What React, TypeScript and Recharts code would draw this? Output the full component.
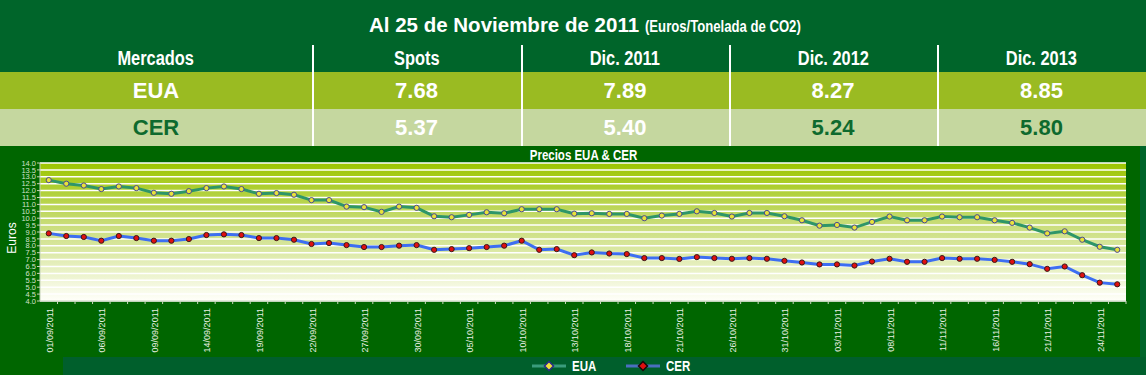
import React from 'react';
import { LineChart, Line, XAxis, YAxis, CartesianGrid, Legend } from 'recharts';

// ---------- data ----------
const dates = [
  '01/09/2011', '02/09/2011', '05/09/2011', '06/09/2011', '07/09/2011', '08/09/2011', '09/09/2011',
  '12/09/2011', '13/09/2011', '14/09/2011', '15/09/2011', '16/09/2011', '19/09/2011', '20/09/2011',
  '21/09/2011', '22/09/2011', '23/09/2011', '26/09/2011', '27/09/2011', '28/09/2011', '29/09/2011',
  '30/09/2011', '03/10/2011', '04/10/2011', '05/10/2011', '06/10/2011', '07/10/2011', '10/10/2011',
  '11/10/2011', '12/10/2011', '13/10/2011', '14/10/2011', '17/10/2011', '18/10/2011', '19/10/2011',
  '20/10/2011', '21/10/2011', '24/10/2011', '25/10/2011', '26/10/2011', '27/10/2011', '28/10/2011',
  '31/10/2011', '01/11/2011', '02/11/2011', '03/11/2011', '04/11/2011', '07/11/2011', '08/11/2011',
  '09/11/2011', '10/11/2011', '11/11/2011', '14/11/2011', '15/11/2011', '16/11/2011', '17/11/2011',
  '18/11/2011', '21/11/2011', '22/11/2011', '23/11/2011', '24/11/2011', '25/11/2011',
];

const euaValues = [
  12.76, 12.5, 12.37, 12.11, 12.3, 12.18, 11.84, 11.77, 11.96, 12.18, 12.3, 12.11, 11.77, 11.82,
  11.7, 11.31, 11.31, 10.84, 10.8, 10.46, 10.84, 10.75, 10.14, 10.07, 10.24, 10.43, 10.36, 10.65,
  10.65, 10.65, 10.33, 10.36, 10.31, 10.31, 10.0, 10.19, 10.31, 10.5, 10.38, 10.12, 10.38, 10.38,
  10.14, 9.85, 9.46, 9.51, 9.32, 9.73, 10.12, 9.85, 9.85, 10.12, 10.07, 10.07, 9.85, 9.66,
  9.32, 8.9, 9.05, 8.44, 7.93, 7.71,
];

const cerValues = [
  8.9, 8.71, 8.64, 8.37, 8.71, 8.56, 8.37, 8.37, 8.49, 8.78, 8.83, 8.78, 8.56, 8.56,
  8.44, 8.13, 8.2, 8.05, 7.91, 7.91, 8.01, 8.05, 7.71, 7.76, 7.83, 7.91, 8.01, 8.37,
  7.71, 7.76, 7.32, 7.52, 7.44, 7.4, 7.11, 7.11, 7.05, 7.18, 7.11, 7.06, 7.11, 7.06,
  6.91, 6.79, 6.65, 6.65, 6.57, 6.86, 7.06, 6.84, 6.84, 7.11, 7.06, 7.06, 6.98, 6.84,
  6.67, 6.33, 6.5, 5.87, 5.33, 5.21,
];

const yTicks = [4, 4.5, 5, 5.5, 6, 6.5, 7, 7.5, 8, 8.5, 9, 9.5, 10, 10.5, 11, 11.5, 12, 12.5, 13, 13.5, 14];

const tableTitle = 'Al 25 de Noviembre de 2011';
const tableSubtitle = '(Euros/Tonelada de CO2)';
const tableColumns = ['Mercados', 'Spots', 'Dic. 2011', 'Dic. 2012', 'Dic. 2013'];
const euaRow = ['EUA', '7.68', '7.89', '8.27', '8.85'];
const cerRow = ['CER', '5.37', '5.40', '5.24', '5.80'];

const chartTitle = 'Precios EUA & CER';
const yAxisTitle = 'Euros';

const data = dates.map((d, i) => ({ date: d, eua: euaValues[i], cer: cerValues[i] }));

// ---------- layout / style ----------
const W = 1146;
const H = 375;
const CHART_TOP = 146;
const CHART_H = H - CHART_TOP;
const MARGIN = { top: 17, right: 20, left: 0, bottom: 0 };
const Y_W = 40;
const X_H = 74;
const PLOT_W = W - MARGIN.left - MARGIN.right - Y_W;
const BAND = PLOT_W / dates.length;

const colX = [0, 312, 521, 729, 937, W];
const ARIAL = '"Liberation Sans", Arial, sans-serif';

const HEADER_BG = '#00652A';
const PANEL_BG = '#006600';
const LEGEND_BG = '#005F2C';
const EUA_ROW_BG = '#9ABB22';
const CER_ROW_BG = '#C5D79F';
const DARK_TEXT = '#0E6A2E';

const EUA_COLOR = '#2E9668';
const CER_COLOR = '#3D6EF2';

// condensed bold text (Arial Narrow look) built from Liberation Sans Bold
const Narrow = ({ children, size, origin = 'center' }: { children: React.ReactNode; size: number; origin?: string }) => (
  <span
    style={{
      display: 'inline-block',
      fontFamily: ARIAL,
      fontWeight: 'bold',
      fontSize: size,
      transform: 'scaleX(0.82)',
      transformOrigin: origin,
      whiteSpace: 'nowrap',
    }}
  >
    {children}
  </span>
);

const XTick = (props: any) => {
  const { x, y, payload, index } = props;
  const half = BAND / 2;
  return (
    <g>
      <line x1={x + half} x2={x + half} y1={y - 7} y2={y - 4} stroke="#C9D6BE" strokeWidth={1} />
      {index % 3 === 0 ? (
        <text
          x={x}
          y={y}
          dy={1}
          transform={`rotate(-90, ${x}, ${y})`}
          textAnchor="end"
          dominantBaseline="central"
          fontSize={9}
          fontFamily={ARIAL}
          fill="#E8EFE2"
        >
          {payload.value}
        </text>
      ) : null}
    </g>
  );
};

const legendItems = [
  { name: 'EUA', line: '#3A9C7C', fill: '#F2E23A', border: '#2A2A8A' },
  { name: 'CER', line: '#4A6FC0', fill: '#E01010', border: '#1A0A0A' },
];

const LegendContent = () => (
  <div
    style={{
      width: '100%',
      height: '100%',
      background: LEGEND_BG,
      display: 'flex',
      alignItems: 'center',
      paddingLeft: 469,
      boxSizing: 'border-box',
      color: '#FFFFFF',
      lineHeight: '18px',
    }}
  >
    {legendItems.map((it, i) => (
      <div key={it.name} style={{ display: 'flex', alignItems: 'center', marginLeft: i === 0 ? 0 : 24 }}>
        <svg width={34} height={12}>
          <line x1={0} x2={34} y1={6} y2={6} stroke={it.line} strokeWidth={3} />
          <polygon points="17,1.5 21.5,6 17,10.5 12.5,6" fill={it.fill} stroke={it.border} strokeWidth={1.5} />
        </svg>
        <span style={{ marginLeft: 6 }}>
          <Narrow size={14} origin="left">{it.name}</Narrow>
        </span>
      </div>
    ))}
  </div>
);

const cell = (left: number, width: number, top: number, height: number, content: React.ReactNode, style: React.CSSProperties, key: string) => (
  <div
    key={key}
    style={{
      position: 'absolute',
      left,
      width,
      top,
      height,
      display: 'flex',
      alignItems: 'center',
      justifyContent: 'center',
      whiteSpace: 'nowrap',
      ...style,
    }}
  >
    {content}
  </div>
);

export default function App() {
  return (
    <div style={{ position: 'relative', width: W, height: H, background: HEADER_BG, overflow: 'hidden' }}>
      <style>{'body{margin:0}'}</style>

      {/* table title */}
      <div
        style={{
          position: 'absolute',
          left: 369,
          top: 12,
          lineHeight: '26px',
          whiteSpace: 'nowrap',
          color: '#FFFFFF',
          fontFamily: ARIAL,
          fontWeight: 'bold',
          fontSize: 20.5,
        }}
      >
        {tableTitle}{' '}
        <Narrow size={16} origin="left">{tableSubtitle}</Narrow>
      </div>

      {/* rows backgrounds */}
      <div style={{ position: 'absolute', left: 0, top: 72, width: W, height: 37, background: EUA_ROW_BG }} />
      <div style={{ position: 'absolute', left: 0, top: 109, width: W, height: 37, background: CER_ROW_BG }} />

      {tableColumns.map((c, i) =>
        cell(colX[i], colX[i + 1] - colX[i], 45, 27, <Narrow size={20}>{c}</Narrow>, { color: '#FFFFFF' }, 'h' + i)
      )}
      {euaRow.map((v, i) =>
        cell(colX[i], colX[i + 1] - colX[i], 72, 37, v, {
          color: '#FFFFFF',
          fontFamily: ARIAL,
          fontWeight: 'bold',
          fontSize: 22,
        }, 'e' + i)
      )}
      {cerRow.map((v, i) =>
        cell(colX[i], colX[i + 1] - colX[i], 109, 37, v, {
          color: i === 0 || i >= 3 ? DARK_TEXT : '#FFFFFF',
          fontFamily: ARIAL,
          fontWeight: 'bold',
          fontSize: 22,
        }, 'c' + i)
      )}
      {colX.slice(1, 5).map((x) => (
        <div key={'s' + x} style={{ position: 'absolute', left: x, top: 45, width: 2, height: 101, background: '#FFFFFF' }} />
      ))}

      {/* chart panel */}
      <div style={{ position: 'absolute', left: 0, top: CHART_TOP, width: 1140, height: CHART_H, background: PANEL_BG }} />
      <div
        style={{
          position: 'absolute',
          left: MARGIN.left + Y_W,
          width: PLOT_W,
          top: CHART_TOP,
          height: 17,
          textAlign: 'center',
          lineHeight: '17px',
          color: '#FFFFFF',
        }}
      >
        <Narrow size={14}>{chartTitle}</Narrow>
      </div>

      <div style={{ position: 'absolute', left: 0, top: CHART_TOP }}>
        <LineChart width={W} height={CHART_H} data={data} margin={MARGIN}>
          <defs>
            <linearGradient id="plotBg" x1="0" y1="0" x2="0" y2="1">
              <stop offset="0%" stopColor="#9CC500" />
              <stop offset="45%" stopColor="#C9DD7A" />
              <stop offset="100%" stopColor="#FFFFFA" />
            </linearGradient>
          </defs>
          <CartesianGrid
            vertical={false}
            stroke="#FFFFFF"
            strokeWidth={1.5}
            fill="url(#plotBg)"
            fillOpacity={1}
          />
          <XAxis
            dataKey="date"
            interval={0}
            height={X_H}
            padding={{ left: BAND / 2, right: BAND / 2 }}
            tick={<XTick />}
            tickLine={false}
            tickSize={3}
            tickMargin={4}
            axisLine={{ stroke: '#C4D2B8' }}
          />
          <YAxis
            width={Y_W}
            domain={[4, 14]}
            ticks={yTicks}
            interval={0}
            tickFormatter={(v: number) => v.toFixed(1)}
            tick={{ fontSize: 7.5, fill: '#D4E0CA', fontFamily: ARIAL }}
            tickLine={{ stroke: '#C4D2B8' }}
            tickSize={3}
            tickMargin={1}
            axisLine={{ stroke: '#C4D2B8' }}
            label={{
              value: yAxisTitle,
              angle: -90,
              position: 'center',
              dx: -8,
              dy: 6,
              fill: '#FFFFFF',
              fontSize: 12,
              fontFamily: ARIAL,
            }}
          />
          <YAxis
            yAxisId="right"
            orientation="right"
            width={0}
            domain={[4, 14]}
            tick={false}
            tickLine={false}
            axisLine={{ stroke: '#C4D2B8' }}
          />
          <Legend
            layout="horizontal"
            verticalAlign="middle"
            align="center"
            wrapperStyle={{ left: 63, top: 211, width: W - 63, height: 18 }}
            content={<LegendContent />}
          />
          <Line
            dataKey="eua"
            name="EUA"
            stroke={EUA_COLOR}
            strokeWidth={3}
            dot={{ r: 2.6, fill: '#E8E23A', stroke: '#4A4A90', strokeWidth: 1 }}
            isAnimationActive={false}
          />
          <Line
            dataKey="cer"
            name="CER"
            stroke={CER_COLOR}
            strokeWidth={3}
            dot={{ r: 2.6, fill: '#E01010', stroke: '#3A1A1A', strokeWidth: 1 }}
            isAnimationActive={false}
          />
        </LineChart>
      </div>
    </div>
  );
}
